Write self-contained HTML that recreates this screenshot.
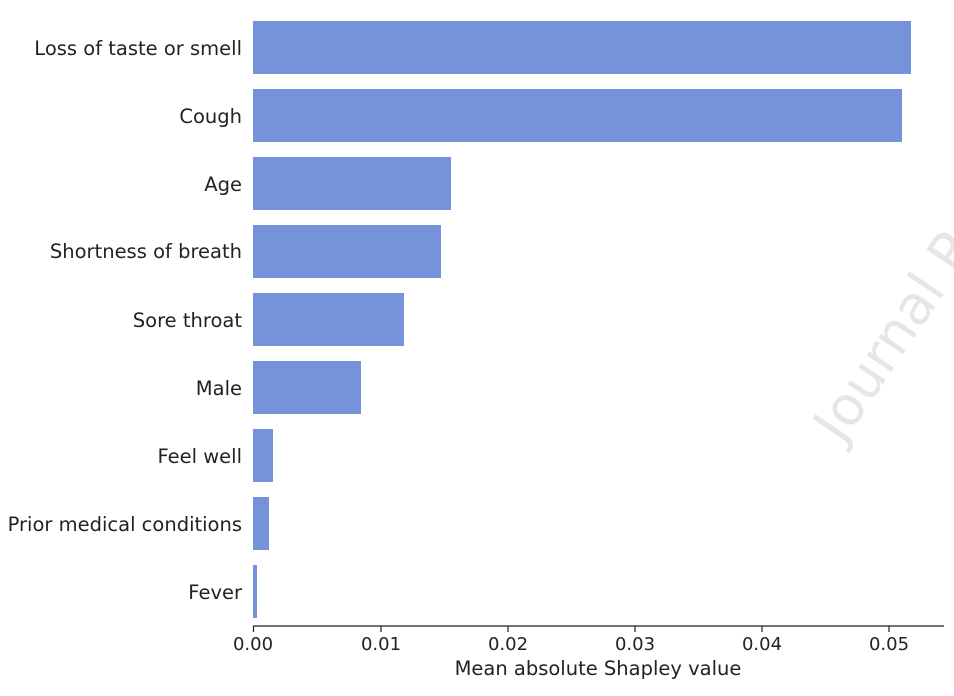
<!DOCTYPE html>
<html><head><style>body{margin:0;background:#fff}svg{display:block}</style></head>
<body>
<svg width="954" height="696" xmlns="http://www.w3.org/2000/svg" font-family="'DejaVu Sans','Liberation Sans',sans-serif" font-size="19.5" fill="#222">
<text x="0" y="0" transform="translate(842,445) rotate(-56)" font-size="54" fill="#e6e6e6">Journal P</text>
<g fill="#7692db">
<rect x="253" y="21" width="658" height="53"/>
<rect x="253" y="89" width="649" height="53"/>
<rect x="253" y="157" width="198" height="53"/>
<rect x="253" y="225" width="188" height="53"/>
<rect x="253" y="293" width="151" height="53"/>
<rect x="253" y="361" width="108" height="53"/>
<rect x="253" y="429" width="20" height="53"/>
<rect x="253" y="497" width="16" height="53"/>
<rect x="253" y="565" width="4" height="53"/>
</g>
<g text-anchor="end">
<text x="242" y="55">Loss of taste or smell</text>
<text x="242" y="123">Cough</text>
<text x="242" y="191">Age</text>
<text x="242" y="258">Shortness of breath</text>
<text x="242" y="327">Sore throat</text>
<text x="242" y="395">Male</text>
<text x="242" y="463">Feel well</text>
<text x="242" y="531">Prior medical conditions</text>
<text x="242" y="599">Fever</text>
</g>
<line x1="253" y1="626" x2="944" y2="626" stroke="#222" stroke-width="1.2"/>
<g stroke="#222" stroke-width="1.2">
<line x1="253.5" y1="626" x2="253.5" y2="632"/>
<line x1="381" y1="626" x2="381" y2="632"/>
<line x1="508" y1="626" x2="508" y2="632"/>
<line x1="635" y1="626" x2="635" y2="632"/>
<line x1="762" y1="626" x2="762" y2="632"/>
<line x1="889" y1="626" x2="889" y2="632"/>
</g>
<g text-anchor="middle" font-size="18">
<text x="253" y="650">0.00</text>
<text x="381" y="650">0.01</text>
<text x="508" y="650">0.02</text>
<text x="635" y="650">0.03</text>
<text x="762" y="650">0.04</text>
<text x="889" y="650">0.05</text>
<text x="598" y="675" font-size="19.5">Mean absolute Shapley value</text>
</g>
</svg>
</body></html>
